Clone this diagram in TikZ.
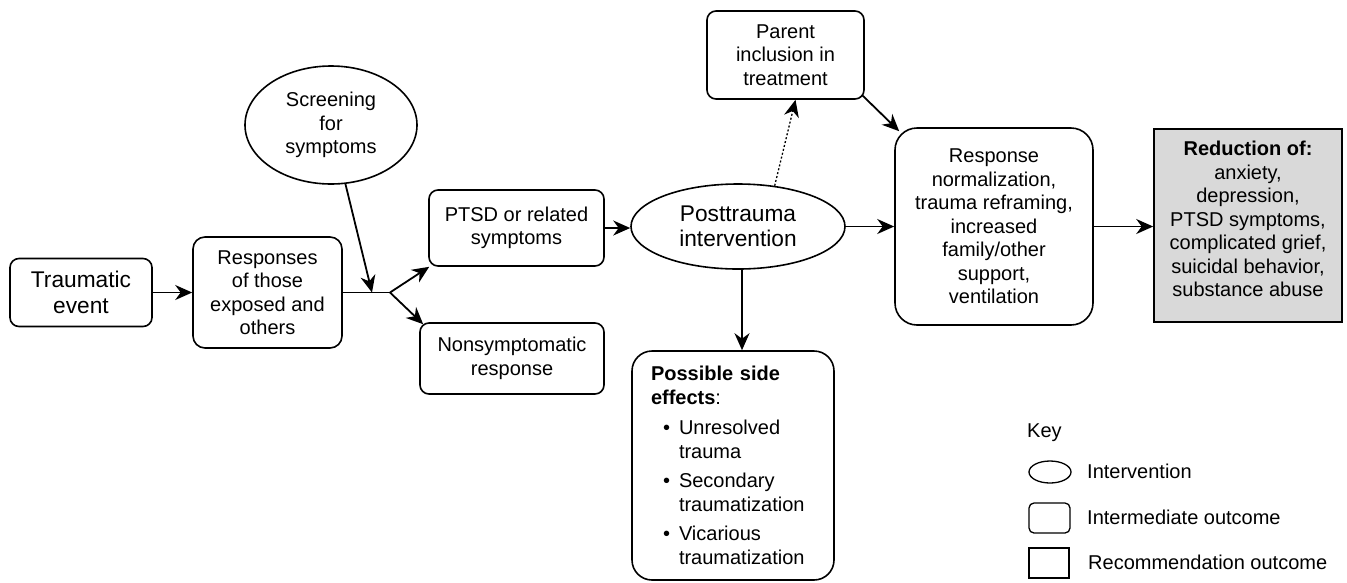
\documentclass[tikz,border=0pt]{standalone}
\usepackage{fontspec}
\setmainfont{Liberation Sans}
\usetikzlibrary{shapes.geometric,arrows.meta}
\definecolor{recgray}{RGB}{217,217,217}
\begin{document}
\begin{tikzpicture}[x=1pt,y=-1pt,
 every node/.style={font=\fontsize{20}{23.5}\selectfont, inner sep=0pt},
 rbox/.style={draw, line width=1.6pt, rounded corners=9pt, align=center},
 oval/.style={draw, ellipse, line width=1.6pt, align=center, inner sep=0pt},
 tip/.style={-{Stealth[length=17pt,width=15pt,inset=5.5pt]}},
 arr/.style={line width=1.8pt, tip},
 plain/.style={line width=1.8pt},
 big/.style={font=\fontsize{22.7}{25.5}\selectfont},
 keyshape/.style={draw, line width=1.3pt}
]
\useasboundingbox (0,0) rectangle (1347,582);

% nodes
\node[rbox, big, minimum width=142pt, minimum height=68pt] (trauma) at (81,292.5) {Traumatic\\event};
\node[rbox, rounded corners=12pt, minimum width=149pt, minimum height=111pt] (resp) at (267.5,292.5) {Responses\\of those\\exposed and\\others};
\node[oval, minimum width=172pt, minimum height=118pt] (screen) at (331,125) {Screening\\for\\symptoms};
\coordinate (jm) at (372,292.5);
\coordinate (j) at (390,292.5);
\node[rbox, minimum width=175pt, minimum height=76pt] (ptsd) at (516.5,228) {PTSD or related\\symptoms};
\node[rbox, minimum width=184pt, minimum height=71pt] (nonsym) at (512,358.5) {Nonsymptomatic\\response};
\node[oval, big, minimum width=214pt, minimum height=85pt] (post) at (738,226.5) {Posttrauma\\intervention};
\node[rbox, minimum width=157pt, minimum height=88pt] (parent) at (785.5,55) {Parent\\inclusion in\\treatment};
\node[rbox, rounded corners=22pt, minimum width=198pt, minimum height=197pt] (respn) at (994,226.5) {Response\\normalization,\\trauma reframing,\\increased\\family/other\\support,\\ventilation};
\node[draw, line width=1.6pt, fill=recgray, minimum width=188pt, minimum height=193pt] (reduc) at (1248,225.5) {};
\node[align=center] (reductext) at (1248,219) {\textbf{Reduction of:}\\anxiety,\\depression,\\PTSD symptoms,\\complicated grief,\\suicidal behavior,\\substance abuse};
\node[rbox, rounded corners=20pt, align=left, text width=164pt, inner xsep=19pt, minimum height=229pt,
      font=\fontsize{20}{24.5}\selectfont] (side) at (733,465.5)
 {\textbf{Possible side}\\
  \textbf{effects}:\\[5pt]
  \hspace*{12pt}\textbullet\hspace{9pt}Unresolved\\
  \hspace*{28pt}trauma\\[4pt]
  \hspace*{12pt}\textbullet\hspace{9pt}Secondary\\
  \hspace*{28pt}traumatization\\[4pt]
  \hspace*{12pt}\textbullet\hspace{9pt}Vicarious\\
  \hspace*{28pt}traumatization};

% key
\node[anchor=west] (keyt) at (1027,433) {Key};
\node[keyshape, ellipse, minimum width=42pt, minimum height=22pt] (k1) at (1050,472) {};
\node[anchor=west] (k1t) at (1087,471) {Intervention};
\node[keyshape, rounded corners=5pt, minimum width=41pt, minimum height=30pt] (k2) at (1049.5,518) {};
\node[anchor=west] (k2t) at (1087,517) {Intermediate outcome};
\node[keyshape, minimum width=40pt, minimum height=30pt] (k3) at (1049,563) {};
\node[anchor=west] (k3t) at (1088,562) {Recommendation outcome};

% connectors
\draw[arr] (trauma) -- (resp);
\draw[plain] (resp.east) -- (j);
\draw[arr] (screen) -- (jm);
\draw[arr] (j) -- ([shift={(1,0)}]ptsd.south west);
\draw[arr] (j) -- ([shift={(4,2)}]nonsym.north west);
\draw[arr] (ptsd.east) -- (ptsd.east -| post.west);
\draw[arr] (post) -- (respn);
\draw[arr] (respn.east) -- (respn.east -| reduc.west);
\draw[line width=1.3pt, dash pattern=on 2pt off 2pt, tip] (post.48) -- ([xshift=10pt]parent.south);
\draw[arr] ([shift={(-2,-4)}]parent.south east) -- ([shift={(5,4)}]respn.north west);
\draw[arr] ([xshift=4pt]post.south) -- ([xshift=4pt]post.south |- side.north);
\end{tikzpicture}
\end{document}
